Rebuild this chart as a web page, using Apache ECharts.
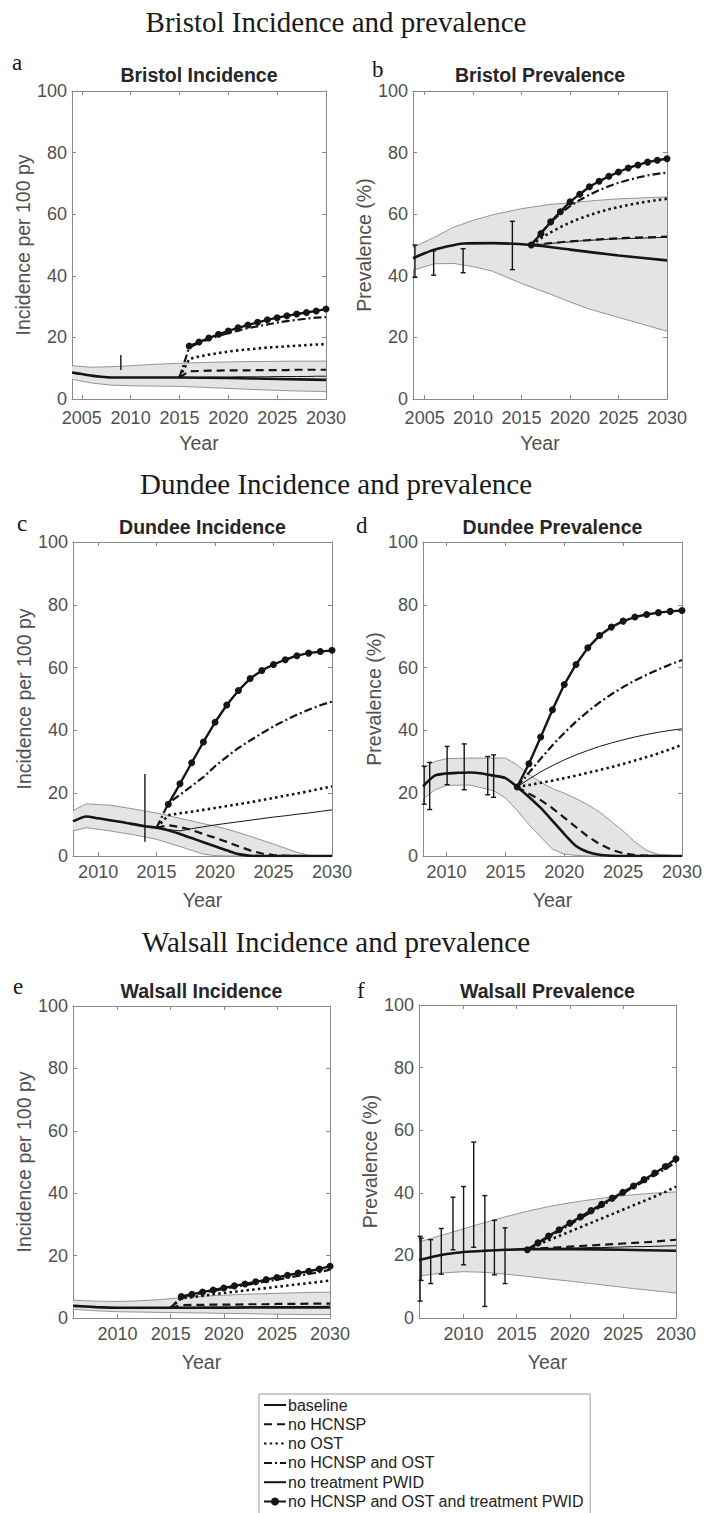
<!DOCTYPE html>
<html><head><meta charset="utf-8">
<script src="https://cdn.jsdelivr.net/npm/echarts@6/dist/echarts.min.js"></script>
<style>html,body{margin:0;padding:0;background:#fff}#c{width:705px;height:1513px}</style>
</head><body><div id="c"></div>
<script>
// ---------- shared x values ----------
const years15 = [2015,2016,2017,2018,2019,2020,2021,2022,2023,2024,2025,2026,2027,2028,2029,2030];
const years16 = [2016,2017,2018,2019,2020,2021,2022,2023,2024,2025,2026,2027,2028,2029,2030];
const seriesNames = ['baseline','no HCNSP','no OST','no HCNSP and OST','no treatment PWID','no HCNSP and OST and treatment PWID'];
const sectionTitles = ['Bristol Incidence and prevalence','Dundee Incidence and prevalence','Walsall Incidence and prevalence'];
const panelLetters = ['a','b','c','d','e','f'];
const panelTitles = ['Bristol Incidence','Bristol Prevalence','Dundee Incidence','Dundee Prevalence','Walsall Incidence','Walsall Prevalence'];
const yNames = ['Incidence per 100 py','Prevalence (%)','Incidence per 100 py','Prevalence (%)','Incidence per 100 py','Prevalence (%)'];
const xTicksBristol = [2005,2010,2015,2020,2025,2030];
const xTicksOther = [2010,2015,2020,2025,2030];

// ---------- a: Bristol incidence ----------
const A_band_years = [2004,2006,2008,2010,2012,2015,2018,2021,2024,2027,2030];
const A_band_upper = [10.8,10.3,10.5,10.8,11.2,11.6,11.9,12.1,12.2,12.3,12.3];
const A_band_lower = [6.4,5.2,4.5,4.3,4.2,4.1,3.7,3.3,2.9,2.6,2.4];
const A_base_years = [2004,2005,2006,2007,2008,2010,2015,2020,2025,2030];
const A_base = [8.6,8.1,7.6,7.2,7.0,7.0,7.0,6.8,6.5,6.2];
const A_noHCNSP = [7.0,9.0,9.1,9.2,9.2,9.3,9.3,9.3,9.4,9.4,9.4,9.4,9.5,9.5,9.5,9.5];
const A_noOST = [7.0,13.0,13.8,14.4,14.9,15.4,15.8,16.1,16.4,16.7,16.9,17.1,17.3,17.5,17.7,17.8];
const A_noBoth = [7.0,16.8,18.2,19.4,20.5,21.4,22.2,23.0,23.6,24.2,24.8,25.3,25.7,26.1,26.4,26.6];
const A_noTreat = [7.0,7.0,7.0,7.1,7.1,7.1,7.2,7.2,7.2,7.2,7.3,7.3,7.3,7.3,7.4,7.4];
const A_noAll = [17.2,18.5,19.8,21.0,22.1,23.1,24.0,24.9,25.7,26.4,27.0,27.6,28.1,28.6,29.2];
const A_err = [[2009,9.4,14.3]];

// ---------- b: Bristol prevalence ----------
const B_band_years = [2003.8,2006,2008,2010,2012,2015,2018,2020,2022,2025,2030];
const B_band_upper = [49.2,52.5,55.8,58.0,59.8,61.8,63.2,63.7,64.3,65.0,65.6];
const B_band_lower = [41.8,43.9,44.0,43.0,41.5,37.5,34.0,31.5,29.2,26.5,22.0];
const B_base_years = [2003.8,2005,2006,2007,2009,2012,2016,2020,2025,2030];
const B_base = [45.7,47.3,48.5,49.3,50.5,50.6,50.0,48.5,46.6,45.0];
const B_noHCNSP = [50.0,50.3,50.6,50.9,51.2,51.4,51.6,51.8,52.0,52.2,52.3,52.4,52.5,52.6,52.7];
const B_noOST = [50.0,52.2,54.1,55.8,57.3,58.6,59.7,60.7,61.6,62.3,63.0,63.6,64.1,64.6,65.0];
const B_noBoth = [50.0,54.0,57.3,60.2,62.6,64.6,66.3,67.8,69.1,70.2,71.1,71.9,72.6,73.1,73.5];
const B_noTreat = [50.0,50.2,50.5,50.8,51.0,51.3,51.5,51.7,51.9,52.0,52.1,52.2,52.3,52.4,52.5];
const B_noAll = [50.0,53.7,57.5,60.8,64.0,66.5,68.9,70.7,72.3,73.7,75.0,76.0,76.9,77.5,78.0];
const B_err = [[2004,39.5,50.0],[2005.93,40.2,48.1],[2008.97,41.0,48.8],[2014.05,42.0,57.7]];

// ---------- c: Dundee incidence ----------
const C_band_years = [2007.85,2009,2011,2013,2015,2017,2019,2020,2021,2023,2025,2027,2028,2030];
const C_band_upper = [14.5,16.6,16.2,15.0,13.7,12.0,10.3,9.5,8.6,6.3,3.8,1.2,0.2,0];
const C_band_lower = [8.0,9.0,8.0,6.8,5.3,3.0,0.6,0.1,0,0,0,0,0,0];
const C_base_years = [2007.85,2009,2010,2012,2014,2015,2016,2017,2018,2019,2020,2021,2022,2023,2024,2026,2030];
const C_base = [11.0,12.6,12.0,10.8,9.5,9.0,8.2,7.0,5.7,4.4,3.1,1.8,0.6,0.1,0,0,0];
const C_noHCNSP = [9.0,9.8,9.2,8.3,7.0,5.8,4.5,3.1,1.8,0.8,0.3,0.1,0,0,0,0];
const C_noOST = [9.0,13.0,13.6,14.1,14.7,15.3,15.9,16.5,17.1,17.8,18.5,19.2,19.9,20.6,21.4,22.2];
const C_noBoth = [9.0,16.7,19.5,22.3,25.1,28.6,31.6,34.4,36.8,39.1,41.3,43.2,45.0,46.6,48.0,49.2];
const C_noTreat = [9.0,8.4,8.0,8.7,9.3,9.9,10.4,10.9,11.4,11.9,12.4,12.8,13.3,13.7,14.2,14.7];
const C_noAll = [16.5,23.0,29.7,36.3,42.6,48.1,52.7,56.5,59.1,61.0,62.5,63.8,64.6,65.1,65.5];
const C_err = [[2014,4.5,26.1]];

// ---------- d: Dundee prevalence ----------
const D_band_years = [2008,2009,2010,2012,2014,2015,2016,2017,2018,2019,2020,2021,2022,2023,2024,2025,2026,2027,2028,2030];
const D_band_upper = [27.9,30.1,31.0,31.2,31.2,31.2,29.0,26.0,23.5,21.5,20.0,18.3,16.3,14.0,11.0,8.0,4.5,1.8,0.5,0];
const D_band_lower = [18.2,21.0,22.5,22.6,20.8,18.5,14.5,10.0,6.0,2.2,0.6,0.2,0,0,0,0,0,0,0,0];
const D_base_years = [2008,2009,2010,2011,2012,2013,2014,2015,2016,2017,2018,2019,2020,2021,2022,2023,2024,2025,2030];
const D_base = [22.2,25.6,26.3,26.5,26.6,26.3,25.6,24.8,22.0,18.8,15.3,11.2,7.0,3.2,1.3,0.4,0.1,0,0];
const D_noHCNSP = [22.0,19.8,17.8,15.2,12.2,9.2,6.2,3.8,2.0,0.9,0.3,0.1,0,0,0];
const D_noOST = [22.0,22.6,23.3,24.0,24.8,25.6,26.5,27.4,28.3,29.3,30.4,31.5,32.7,34.0,35.4];
const D_noBoth = [22.0,26.5,31.0,35.3,39.2,42.8,46.0,48.9,51.5,53.8,55.9,57.7,59.4,61.0,62.4];
const D_noTreat = [22.0,24.5,26.8,28.8,30.6,32.2,33.6,34.9,36.0,37.0,37.9,38.7,39.4,40.0,40.5];
const D_noAll = [22.0,29.4,37.9,46.6,54.6,61.0,66.3,70.2,72.9,74.8,76.1,76.9,77.5,77.9,78.2];
const D_err = [[2008.1,16.5,28.6],[2008.57,14.8,29.8],[2010.05,22.7,34.9],[2011.5,21.1,35.7],[2013.5,19.5,31.7],[2014,18.7,32.2]];

// ---------- e: Walsall incidence ----------
const E_band_years = [2005.8,2008,2010,2012,2014,2016,2018,2020,2022,2025,2028,2030];
const E_band_upper = [5.7,5.4,5.3,5.5,5.9,6.5,7.0,7.3,7.6,7.9,8.2,8.3];
const E_band_lower = [2.8,2.3,2.0,1.9,1.8,1.7,1.6,1.5,1.4,1.2,1.1,1.1];
const E_base_years = [2005.8,2008,2010,2015,2020,2025,2030];
const E_base = [3.9,3.5,3.3,3.3,3.3,3.4,3.4];
const E_noHCNSP = [3.3,4.1,4.2,4.2,4.3,4.3,4.3,4.4,4.4,4.4,4.5,4.5,4.5,4.6,4.6,4.6];
const E_noOST = [3.3,6.3,6.7,7.1,7.6,8.0,8.4,8.8,9.2,9.6,10.0,10.4,10.8,11.2,11.6,12.0];
const E_noBoth = [3.3,6.8,7.4,8.0,8.7,9.3,9.9,10.5,11.1,11.7,12.3,12.9,13.5,14.1,14.7,15.5];
const E_noTreat = [3.3,3.4,3.4,3.5,3.5,3.5,3.5,3.6,3.6,3.6,3.6,3.7,3.7,3.7,3.7,3.8];
const E_noAll = [6.9,7.6,8.3,9.0,9.6,10.3,10.9,11.6,12.3,13.0,13.7,14.4,15.0,15.7,16.6];
const E_err = [];

// ---------- f: Walsall prevalence ----------
const F_band_years = [2005.8,2008,2010,2012,2014,2016,2018,2020,2022,2024,2026,2028,2030];
const F_band_upper = [24.3,26.5,28.5,30.5,32.4,34.1,35.6,36.8,37.8,38.7,39.4,39.9,40.3];
const F_band_lower = [13.4,14.4,14.8,14.6,14.0,13.3,12.5,11.8,11.0,10.2,9.4,8.7,8.0];
const F_base_years = [2005.8,2007,2008,2009,2010,2012,2014,2016,2020,2025,2030];
const F_base = [18.5,19.5,20.2,20.7,21.1,21.5,21.8,22.0,22.0,21.8,21.5];
const F_noHCNSP = [22.0,22.2,22.4,22.6,22.8,23.0,23.2,23.4,23.6,23.8,24.0,24.2,24.4,24.7,25.0];
const F_noOST = [22.0,23.4,24.8,26.2,27.6,29.0,30.4,31.8,33.2,34.6,36.0,37.4,38.8,40.3,42.0];
const F_noBoth = [22.0,23.8,25.8,27.8,29.8,31.8,33.8,35.8,37.8,39.8,41.8,43.7,45.6,47.6,49.8];
const F_noTreat = [22.0,22.1,22.1,22.2,22.3,22.4,22.5,22.5,22.6,22.7,22.8,22.8,22.9,23.0,23.1];
const F_noAll = [21.8,24.0,26.2,28.2,30.3,32.3,34.3,36.3,38.3,40.2,42.2,44.2,46.3,48.4,50.9];
const F_err = [[2005.9,5.4,26.1],[2006.0,12.0,25.5],[2006.9,11.0,25.0],[2007.9,14.0,28.6],[2009.0,21.8,38.6],[2010.0,17.0,42.0],[2010.95,22.6,56.2],[2012.0,3.7,39.1],[2012.9,13.8,31.2],[2013.9,11.0,28.8]];

// ---------- panel assembly (layout kept separate from data) ----------
const panels = [
  {grid:{left:72,top:91,width:254,height:308}, xmin:2004, ticks:xTicksBristol, lblMargin:11.5, band:[A_band_years,A_band_upper,A_band_lower], base:[A_base_years,A_base], scYears:years15, sc:[A_noHCNSP,A_noOST,A_noBoth,A_noTreat], allYears:years16, all:A_noAll, err:A_err, caps:false},
  {grid:{left:413,top:91,width:254,height:308}, xmin:2003.8, ticks:xTicksBristol, lblMargin:11.5, band:[B_band_years,B_band_upper,B_band_lower], base:[B_base_years,B_base], scYears:years16, sc:[B_noHCNSP,B_noOST,B_noBoth,B_noTreat], allYears:years16, all:B_noAll, err:B_err, caps:true},
  {grid:{left:73,top:542,width:259,height:314}, xmin:2007.85, ticks:xTicksOther, lblMargin:8.6, band:[C_band_years,C_band_upper,C_band_lower], base:[C_base_years,C_base], scYears:years15, sc:[C_noHCNSP,C_noOST,C_noBoth,C_noTreat], allYears:years16, all:C_noAll, err:C_err, caps:false},
  {grid:{left:423,top:542,width:259,height:314}, xmin:2008, ticks:xTicksOther, lblMargin:8.6, band:[D_band_years,D_band_upper,D_band_lower], base:[D_base_years,D_base], scYears:years16, sc:[D_noHCNSP,D_noOST,D_noBoth,D_noTreat], allYears:years16, all:D_noAll, err:D_err, caps:true},
  {grid:{left:73,top:1006,width:257,height:312}, xmin:2005.8, ticks:xTicksOther, lblMargin:8.6, band:[E_band_years,E_band_upper,E_band_lower], base:[E_base_years,E_base], scYears:years15, sc:[E_noHCNSP,E_noOST,E_noBoth,E_noTreat], allYears:years16, all:E_noAll, err:E_err, caps:true},
  {grid:{left:419,top:1005,width:257,height:313}, xmin:2005.8, ticks:xTicksOther, lblMargin:8.6, band:[F_band_years,F_band_upper,F_band_lower], base:[F_base_years,F_base], scYears:years16, sc:[F_noHCNSP,F_noOST,F_noBoth,F_noTreat], allYears:years16, all:F_noAll, err:F_err, caps:true}
];

const FONT = '"Liberation Sans", Arial, sans-serif';
const SERIF = '"Liberation Serif", "Times New Roman", serif';
const AXC = '#8a8a8a';
const INK = '#151515';
const zip = (xs, ys) => xs.map((x, k) => [x, ys[k]]);

const scStyles = [
  {width:2.2, type:[8,5]},
  {width:2.6, type:[2.5,3.2]},
  {width:2.2, type:[8,3,2,3]},
  {width:1.0, type:'solid'}
];

const grids = [], xAxes = [], yAxes = [], series = [];

function errRenderer(caps) {
  return function (params, api) {
    const x = api.value(0), lo = api.value(1), hi = api.value(2);
    const p1 = api.coord([x, lo]), p2 = api.coord([x, hi]);
    const st = {stroke: INK, lineWidth: 1.4};
    const ch = [{type:'line', shape:{x1:p1[0], y1:p1[1], x2:p2[0], y2:p2[1]}, style:st}];
    if (caps) {
      ch.push({type:'line', shape:{x1:p1[0]-2.5, y1:p1[1], x2:p1[0]+2.5, y2:p1[1]}, style:st});
      ch.push({type:'line', shape:{x1:p2[0]-2.5, y1:p2[1], x2:p2[0]+2.5, y2:p2[1]}, style:st});
    }
    return {type:'group', children:ch};
  };
}

// uncertainty band: one polygon (upper edge forward, lower edge back) through the axis scales
function bandRenderer(rows) {
  return function (params, api) {
    if (params.dataIndex !== 0) return null;
    const top = rows.map(r => api.coord([r[0], r[1]]));
    const bot = rows.map(r => api.coord([r[0], r[2]]));
    const poly = top.concat(bot.slice().reverse());
    return {type:'group', children:[
      {type:'polygon', shape:{points:poly}, style:{fill:'#e4e4e6', stroke:null}},
      {type:'polyline', shape:{points:top}, style:{stroke:AXC, lineWidth:0.9, fill:null}},
      {type:'polyline', shape:{points:bot}, style:{stroke:AXC, lineWidth:0.9, fill:null}}
    ]};
  };
}

panels.forEach((p, i) => {
  grids.push(Object.assign({containLabel:false}, p.grid));
  const tickCommon = {show:true, inside:true, length:4, lineStyle:{color:AXC, width:1}};
  xAxes.push({
    gridIndex:i, type:'value', min:p.xmin, max:2030, position:'bottom',
    axisLine:{show:true, onZero:false, lineStyle:{color:AXC, width:1}},
    axisTick:Object.assign({customValues:p.ticks}, tickCommon),
    axisLabel:{customValues:p.ticks, formatter:v => String(v), color:'#505050', fontSize:18, lineHeight:14, fontFamily:FONT, margin:p.lblMargin},
    splitLine:{show:false},
    name:'Year', nameLocation:'middle', nameGap:33.5,
    nameTextStyle:{color:'#505050', fontSize:19.5, fontFamily:FONT}
  });
  xAxes.push({
    gridIndex:i, type:'value', min:p.xmin, max:2030, position:'top',
    axisLine:{show:true, onZero:false, lineStyle:{color:AXC, width:1}},
    axisTick:Object.assign({customValues:p.ticks}, tickCommon),
    axisLabel:{show:false}, splitLine:{show:false}
  });
  yAxes.push({
    gridIndex:i, type:'value', min:0, max:100, interval:20, position:'left',
    axisLine:{show:true, onZero:false, lineStyle:{color:AXC, width:1}},
    axisTick:tickCommon,
    axisLabel:{color:'#505050', fontSize:18, lineHeight:14, fontFamily:FONT, margin:5},
    splitLine:{show:false},
    name:yNames[i], nameLocation:'middle', nameGap:37,
    nameTextStyle:{color:'#505050', fontSize:19.5, fontFamily:FONT}
  });
  yAxes.push({
    gridIndex:i, type:'value', min:0, max:100, interval:20, position:'right',
    axisLine:{show:true, onZero:false, lineStyle:{color:AXC, width:1}},
    axisTick:tickCommon, axisLabel:{show:false}, splitLine:{show:false}
  });
  const xi = 2*i, yi = 2*i;
  const [by, bu, bl] = p.band;
  const bandRows = by.map((x, k) => [x, bu[k], bl[k]]);
  series.push({
    type:'custom', name:'band-'+i, xAxisIndex:xi, yAxisIndex:yi,
    data:bandRows, encode:{x:0, y:[1,2]}, renderItem:bandRenderer(bandRows), silent:true, z:1
  });
  series.push({
    type:'line', name:seriesNames[0], xAxisIndex:xi, yAxisIndex:yi,
    data:zip(p.base[0], p.base[1]), symbol:'none', smooth:0.25, silent:true,
    lineStyle:{color:INK, width:2.6}, itemStyle:{color:INK}, z:5
  });
  p.sc.forEach((vals, k) => {
    series.push({
      type:'line', name:seriesNames[k+1], xAxisIndex:xi, yAxisIndex:yi,
      data:zip(p.scYears, vals), symbol:'none', silent:true,
      lineStyle:Object.assign({color:INK}, scStyles[k]), itemStyle:{color:INK}, z:4
    });
  });
  series.push({
    type:'line', name:seriesNames[5], xAxisIndex:xi, yAxisIndex:yi,
    data:zip(p.allYears, p.all), symbol:'circle', symbolSize:7, showSymbol:true, silent:true,
    lineStyle:{color:INK, width:2.4}, itemStyle:{color:INK}, z:6
  });
  if (p.err.length) {
    series.push({
      type:'custom', name:'err-'+i, xAxisIndex:xi, yAxisIndex:yi,
      data:p.err, encode:{x:0, y:[1,2]}, renderItem:errRenderer(p.caps), silent:true, z:7
    });
  }
});

// ---------- text annotations ----------
function txt(text, x, y, font, align, color) {
  return {type:'text', x:x, y:y, silent:true,
    style:{text:text, font:font, fill:color||'#1a1a1a', textAlign:align, align:align, textVerticalAlign:'middle', verticalAlign:'middle'}};
}
const sectionPos = [[336,22],[336,484],[336,942]];
const letterPos = [[12,62.2],[372,69.5],[17,523.2],[356,525.2],[13,986.2],[357,990.2]];
const titleY = [75,75,526.5,526.5,990.5,991];
const graphics = [];
sectionTitles.forEach((t, k) => graphics.push(txt(t, sectionPos[k][0], sectionPos[k][1], '29px ' + SERIF, 'center')));
panelLetters.forEach((t, k) => graphics.push(txt(t, letterPos[k][0], letterPos[k][1], '23px ' + SERIF, 'left')));
panelTitles.forEach((t, k) => {
  const g = panels[k].grid;
  graphics.push(txt(t, g.left + g.width/2, titleY[k], 'bold 19.5px ' + FONT, 'center', '#262626'));
});

const hidden = {color:'rgba(0,0,0,0)', borderColor:'rgba(0,0,0,0)', borderWidth:0, opacity:0};
const legendData = seriesNames.map((n, k) => k < 5 ? {name:n, itemStyle:hidden} : {name:n});

const chart = echarts.init(document.getElementById('c'), null, {renderer:'svg', width:705, height:1513});
chart.setOption({
  animation:false,
  backgroundColor:'#ffffff',
  textStyle:{fontFamily:FONT},
  grid:grids, xAxis:xAxes, yAxis:yAxes, series:series,
  graphic:graphics,
  legend:{
    data:legendData, orient:'vertical', left:259, top:1394, height:140,
    itemWidth:22, itemHeight:10, itemGap:3.3, selectedMode:false,
    padding:[3,6,8,4], borderColor:'#999', borderWidth:1, backgroundColor:'#fff',
    textStyle:{fontSize:16, fontFamily:FONT, color:'#222', padding:[0,0,0,-3]}
  }
});
</script></body></html>
